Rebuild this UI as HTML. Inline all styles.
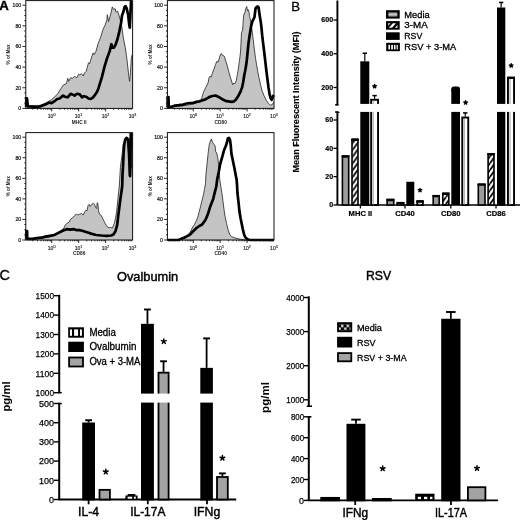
<!DOCTYPE html>
<html><head><meta charset="utf-8"><title>Figure</title>
<style>
html,body{margin:0;padding:0;background:#fff;width:520px;height:520px;overflow:hidden;}
svg{display:block;font-family:"Liberation Sans",sans-serif;will-change:transform;filter:blur(0.35px);}
</style></head>
<body>
<svg width="520" height="520" viewBox="0 0 520 520">
<defs>
<pattern id="hatchB" patternUnits="userSpaceOnUse" width="4.9" height="6.8">
<rect width="4.9" height="6.8" fill="#fff"/>
<path d="M-4.9,6.8 L0,0 M0,6.8 L4.9,0 M4.9,13.6 L9.8,6.8 M4.9,6.8 L9.8,0 M-4.9,13.6 L4.9,0" stroke="#000" stroke-width="1.8"/>
</pattern>
<pattern id="hatchL" patternUnits="userSpaceOnUse" width="5.5" height="5.5" x="387" y="21">
<rect width="5.5" height="5.5" fill="#fff"/>
<path d="M-1.4,1.4 L1.4,-1.4 M0,5.5 L5.5,0 M4.1,6.9 L6.9,4.1" stroke="#000" stroke-width="1.9"/>
</pattern>
<pattern id="vstripeB" patternUnits="userSpaceOnUse" width="3.0" height="10" x="0.4">
<rect width="3.0" height="10" fill="#fff"/>
<rect x="1.7" width="1.0" height="10" fill="#555"/>
</pattern>
<pattern id="vstripeL" patternUnits="userSpaceOnUse" width="3.0" height="10" x="388.6">
<rect width="3.0" height="10" fill="#000"/>
<rect x="0.6" width="1.6" height="10" fill="#fff"/>
</pattern>
<pattern id="hlineB" patternUnits="userSpaceOnUse" width="10" height="2.2">
<rect width="10" height="2.2" fill="#8a8a8a"/>
<rect y="0.6" width="10" height="0.9" fill="#c8c8c8"/>
</pattern>
<pattern id="vstripeC" patternUnits="userSpaceOnUse" width="4.3" height="10" x="126.3">
<rect width="4.3" height="10" fill="#fff"/>
<rect x="3.1" width="1.4" height="10" fill="#000"/>
</pattern>
<pattern id="vstripeCL" patternUnits="userSpaceOnUse" width="4.4" height="10" x="69.6">
<rect width="4.4" height="10" fill="#fff"/>
<rect x="3.2" width="1.5" height="10" fill="#000"/>
</pattern>
<pattern id="checkC" patternUnits="userSpaceOnUse" width="5" height="5" x="416" y="495.5">
<rect width="5" height="5" fill="#fff"/>
<rect x="2.5" y="0" width="2.5" height="2.5" fill="#000"/>
<rect x="0" y="2.5" width="2.5" height="2.5" fill="#000"/>
</pattern>
<pattern id="checkCL" patternUnits="userSpaceOnUse" width="5.6" height="6" x="338.2" y="324.4">
<rect width="5.6" height="6" fill="#000"/>
<rect x="2.9" y="0.3" width="2.3" height="2.4" fill="#fff"/>
<rect x="0.3" y="3.2" width="2.3" height="2.4" fill="#fff"/>
</pattern>
</defs>
<rect width="520" height="520" fill="#fff"/>
<text x="-0.70" y="10.20" font-size="13.2" font-weight="bold" text-anchor="start" stroke="#000" stroke-width="0.4">A</text>
<polygon points="26.10,108.40 26.10,106.80 26.30,97.70 27.00,97.70 27.40,105.80 28.20,105.80 36.70,105.80 40.00,105.40 45.80,103.10 51.50,99.60 57.30,94.40 61.30,88.10 63.10,85.20 66.50,83.50 67.70,78.30 68.80,81.20 70.60,77.70 72.30,78.30 74.60,76.50 76.90,77.70 78.70,74.20 79.80,74.80 81.50,73.70 83.30,76.00 84.40,73.10 86.20,71.30 87.30,67.30 88.50,62.70 89.60,63.80 91.30,58.10 93.10,52.90 94.20,54.60 96.00,51.20 98.20,43.30 100.40,38.10 103.00,29.40 105.10,25.10 106.90,19.90 107.30,14.70 108.60,21.60 110.80,13.80 112.30,6.90 113.40,9.50 115.10,8.70 116.00,12.10 117.70,11.20 118.50,13.80 120.30,19.90 121.80,27.00 123.50,39.00 125.30,47.70 127.00,59.80 128.70,75.40 129.60,81.40 130.50,71.90 131.30,58.10 132.20,54.60 132.20,108.40" fill="#c4c4c4" stroke="none"/>
<polyline points="26.10,106.80 26.30,97.70 27.00,97.70 27.40,105.80 28.20,105.80 36.70,105.80 40.00,105.40 45.80,103.10 51.50,99.60 57.30,94.40 61.30,88.10 63.10,85.20 66.50,83.50 67.70,78.30 68.80,81.20 70.60,77.70 72.30,78.30 74.60,76.50 76.90,77.70 78.70,74.20 79.80,74.80 81.50,73.70 83.30,76.00 84.40,73.10 86.20,71.30 87.30,67.30 88.50,62.70 89.60,63.80 91.30,58.10 93.10,52.90 94.20,54.60 96.00,51.20 98.20,43.30 100.40,38.10 103.00,29.40 105.10,25.10 106.90,19.90 107.30,14.70 108.60,21.60 110.80,13.80 112.30,6.90 113.40,9.50 115.10,8.70 116.00,12.10 117.70,11.20 118.50,13.80 120.30,19.90 121.80,27.00 123.50,39.00 125.30,47.70 127.00,59.80 128.70,75.40 129.60,81.40 130.50,71.90 131.30,58.10 132.20,54.60" fill="none" stroke="#222" stroke-width="0.8" stroke-linejoin="round"/>
<polyline points="26.10,106.80 26.30,98.40 27.00,98.40 27.80,106.40 36.70,106.80 40.00,106.50 45.80,104.20 49.20,102.50 51.50,103.10 55.00,100.80 57.30,99.00 59.60,98.50 63.10,95.60 64.80,96.70 67.70,97.30 70.60,93.80 72.30,94.40 74.60,95.60 76.90,93.80 79.80,94.40 82.10,97.30 83.80,96.20 86.20,96.70 88.50,98.50 90.80,99.00 93.10,97.30 95.40,94.40 97.20,91.50 98.50,88.20 101.90,77.10 104.50,66.70 107.10,58.10 109.70,51.10 111.40,44.20 112.30,47.70 114.00,47.70 115.80,44.20 117.50,39.00 119.20,32.10 121.00,23.50 122.00,15.50 123.30,12.10 124.60,6.90 125.50,6.10 126.80,8.70 128.10,14.70 129.40,26.00 129.80,27.70 130.70,8.70 131.10,1.30 131.40,0.60" fill="none" stroke="#000" stroke-width="2.7" stroke-linejoin="round"/>
<rect x="25.80" y="0.60" width="106.80" height="107.80" fill="none" stroke="#111" stroke-width="1.0"/>
<line x1="22.40" y1="108.40" x2="25.80" y2="108.40" stroke="#111" stroke-width="0.9"/>
<text x="21.20" y="110.30" font-size="5.2" font-weight="normal" text-anchor="end" fill="#111" stroke="#111" stroke-width="0.2">0</text>
<line x1="24.30" y1="103.24" x2="25.80" y2="103.24" stroke="#111" stroke-width="0.9"/>
<line x1="24.30" y1="98.08" x2="25.80" y2="98.08" stroke="#111" stroke-width="0.9"/>
<line x1="24.30" y1="92.92" x2="25.80" y2="92.92" stroke="#111" stroke-width="0.9"/>
<line x1="22.40" y1="87.76" x2="25.80" y2="87.76" stroke="#111" stroke-width="0.9"/>
<text x="21.20" y="89.66" font-size="5.2" font-weight="normal" text-anchor="end" fill="#111" stroke="#111" stroke-width="0.2">20</text>
<line x1="24.30" y1="82.60" x2="25.80" y2="82.60" stroke="#111" stroke-width="0.9"/>
<line x1="24.30" y1="77.44" x2="25.80" y2="77.44" stroke="#111" stroke-width="0.9"/>
<line x1="24.30" y1="72.28" x2="25.80" y2="72.28" stroke="#111" stroke-width="0.9"/>
<line x1="22.40" y1="67.12" x2="25.80" y2="67.12" stroke="#111" stroke-width="0.9"/>
<text x="21.20" y="69.02" font-size="5.2" font-weight="normal" text-anchor="end" fill="#111" stroke="#111" stroke-width="0.2">40</text>
<line x1="24.30" y1="61.96" x2="25.80" y2="61.96" stroke="#111" stroke-width="0.9"/>
<line x1="24.30" y1="56.80" x2="25.80" y2="56.80" stroke="#111" stroke-width="0.9"/>
<line x1="24.30" y1="51.64" x2="25.80" y2="51.64" stroke="#111" stroke-width="0.9"/>
<line x1="22.40" y1="46.48" x2="25.80" y2="46.48" stroke="#111" stroke-width="0.9"/>
<text x="21.20" y="48.38" font-size="5.2" font-weight="normal" text-anchor="end" fill="#111" stroke="#111" stroke-width="0.2">60</text>
<line x1="24.30" y1="41.32" x2="25.80" y2="41.32" stroke="#111" stroke-width="0.9"/>
<line x1="24.30" y1="36.16" x2="25.80" y2="36.16" stroke="#111" stroke-width="0.9"/>
<line x1="24.30" y1="31.00" x2="25.80" y2="31.00" stroke="#111" stroke-width="0.9"/>
<line x1="22.40" y1="25.84" x2="25.80" y2="25.84" stroke="#111" stroke-width="0.9"/>
<text x="21.20" y="27.74" font-size="5.2" font-weight="normal" text-anchor="end" fill="#111" stroke="#111" stroke-width="0.2">80</text>
<line x1="24.30" y1="20.68" x2="25.80" y2="20.68" stroke="#111" stroke-width="0.9"/>
<line x1="24.30" y1="15.52" x2="25.80" y2="15.52" stroke="#111" stroke-width="0.9"/>
<line x1="24.30" y1="10.36" x2="25.80" y2="10.36" stroke="#111" stroke-width="0.9"/>
<line x1="22.40" y1="5.20" x2="25.80" y2="5.20" stroke="#111" stroke-width="0.9"/>
<text x="21.20" y="7.10" font-size="5.2" font-weight="normal" text-anchor="end" fill="#111" stroke="#111" stroke-width="0.2">100</text>
<text transform="translate(10.30,54.50) rotate(-90)" font-size="4.9" font-weight="bold" text-anchor="middle" fill="#222" textLength="20" lengthAdjust="spacingAndGlyphs">% of Max</text>
<line x1="32.85" y1="108.40" x2="32.85" y2="109.70" stroke="#111" stroke-width="0.9"/>
<line x1="37.60" y1="108.40" x2="37.60" y2="109.70" stroke="#111" stroke-width="0.9"/>
<line x1="40.97" y1="108.40" x2="40.97" y2="109.70" stroke="#111" stroke-width="0.9"/>
<line x1="43.58" y1="108.40" x2="43.58" y2="109.70" stroke="#111" stroke-width="0.9"/>
<line x1="45.72" y1="108.40" x2="45.72" y2="109.70" stroke="#111" stroke-width="0.9"/>
<line x1="47.52" y1="108.40" x2="47.52" y2="109.70" stroke="#111" stroke-width="0.9"/>
<line x1="49.09" y1="108.40" x2="49.09" y2="109.70" stroke="#111" stroke-width="0.9"/>
<line x1="50.47" y1="108.40" x2="50.47" y2="109.70" stroke="#111" stroke-width="0.9"/>
<line x1="51.70" y1="108.40" x2="51.70" y2="111.40" stroke="#111" stroke-width="0.9"/>
<line x1="59.82" y1="108.40" x2="59.82" y2="109.70" stroke="#111" stroke-width="0.9"/>
<line x1="64.57" y1="108.40" x2="64.57" y2="109.70" stroke="#111" stroke-width="0.9"/>
<line x1="67.94" y1="108.40" x2="67.94" y2="109.70" stroke="#111" stroke-width="0.9"/>
<line x1="70.55" y1="108.40" x2="70.55" y2="109.70" stroke="#111" stroke-width="0.9"/>
<line x1="72.68" y1="108.40" x2="72.68" y2="109.70" stroke="#111" stroke-width="0.9"/>
<line x1="74.49" y1="108.40" x2="74.49" y2="109.70" stroke="#111" stroke-width="0.9"/>
<line x1="76.05" y1="108.40" x2="76.05" y2="109.70" stroke="#111" stroke-width="0.9"/>
<line x1="77.43" y1="108.40" x2="77.43" y2="109.70" stroke="#111" stroke-width="0.9"/>
<line x1="78.67" y1="108.40" x2="78.67" y2="111.40" stroke="#111" stroke-width="0.9"/>
<line x1="86.78" y1="108.40" x2="86.78" y2="109.70" stroke="#111" stroke-width="0.9"/>
<line x1="91.53" y1="108.40" x2="91.53" y2="109.70" stroke="#111" stroke-width="0.9"/>
<line x1="94.90" y1="108.40" x2="94.90" y2="109.70" stroke="#111" stroke-width="0.9"/>
<line x1="97.52" y1="108.40" x2="97.52" y2="109.70" stroke="#111" stroke-width="0.9"/>
<line x1="99.65" y1="108.40" x2="99.65" y2="109.70" stroke="#111" stroke-width="0.9"/>
<line x1="101.46" y1="108.40" x2="101.46" y2="109.70" stroke="#111" stroke-width="0.9"/>
<line x1="103.02" y1="108.40" x2="103.02" y2="109.70" stroke="#111" stroke-width="0.9"/>
<line x1="104.40" y1="108.40" x2="104.40" y2="109.70" stroke="#111" stroke-width="0.9"/>
<line x1="105.63" y1="108.40" x2="105.63" y2="111.40" stroke="#111" stroke-width="0.9"/>
<line x1="113.75" y1="108.40" x2="113.75" y2="109.70" stroke="#111" stroke-width="0.9"/>
<line x1="118.50" y1="108.40" x2="118.50" y2="109.70" stroke="#111" stroke-width="0.9"/>
<line x1="121.87" y1="108.40" x2="121.87" y2="109.70" stroke="#111" stroke-width="0.9"/>
<line x1="124.48" y1="108.40" x2="124.48" y2="109.70" stroke="#111" stroke-width="0.9"/>
<line x1="126.62" y1="108.40" x2="126.62" y2="109.70" stroke="#111" stroke-width="0.9"/>
<line x1="128.42" y1="108.40" x2="128.42" y2="109.70" stroke="#111" stroke-width="0.9"/>
<line x1="129.99" y1="108.40" x2="129.99" y2="109.70" stroke="#111" stroke-width="0.9"/>
<line x1="131.37" y1="108.40" x2="131.37" y2="109.70" stroke="#111" stroke-width="0.9"/>
<text x="51.60" y="118.00" font-size="5" text-anchor="middle" fill="#222" stroke="#222" stroke-width="0.15">10<tspan dy="-2" font-size="3.6">0</tspan></text>
<text x="78.57" y="118.00" font-size="5" text-anchor="middle" fill="#222" stroke="#222" stroke-width="0.15">10<tspan dy="-2" font-size="3.6">1</tspan></text>
<text x="105.53" y="118.00" font-size="5" text-anchor="middle" fill="#222" stroke="#222" stroke-width="0.15">10<tspan dy="-2" font-size="3.6">2</tspan></text>
<text x="132.50" y="118.00" font-size="5" text-anchor="middle" fill="#222" stroke="#222" stroke-width="0.15">10<tspan dy="-2" font-size="3.6">3</tspan></text>
<text x="79.20" y="123.60" font-size="4.8" font-weight="bold" text-anchor="middle" fill="#222">MHC II</text>
<polygon points="167.60,108.40 167.60,107.30 167.70,97.10 168.50,97.10 168.70,107.30 183.20,105.70 192.90,104.10 199.40,101.90 201.50,99.20 202.60,94.90 203.70,91.70 205.80,87.40 208.00,83.10 209.10,77.70 210.20,76.10 211.20,77.20 212.30,73.40 213.90,69.10 215.50,64.80 216.60,61.50 218.20,62.10 219.30,58.30 220.20,55.00 221.30,53.60 222.20,55.10 224.30,56.20 225.90,61.50 227.00,64.80 228.60,71.20 230.20,76.60 231.80,82.00 232.70,84.70 233.80,83.10 234.90,83.60 236.20,80.90 237.20,75.50 238.30,69.10 239.20,62.60 239.90,57.20 240.50,52.00 241.00,43.10 241.50,32.30 242.60,30.20 243.20,21.50 243.70,15.10 244.80,12.90 245.80,8.60 246.70,6.50 247.50,10.80 248.20,9.70 248.90,11.80 249.60,16.20 250.70,21.50 251.20,25.80 252.30,32.30 253.40,40.90 254.20,48.00 255.50,58.30 256.60,64.80 257.70,71.20 259.00,77.70 260.40,84.20 262.00,90.60 264.20,96.00 266.30,100.30 268.50,103.50 270.60,105.20 272.20,104.60 273.30,103.00 274.00,102.00 274.00,108.40" fill="#c4c4c4" stroke="none"/>
<polyline points="167.60,107.30 167.70,97.10 168.50,97.10 168.70,107.30 183.20,105.70 192.90,104.10 199.40,101.90 201.50,99.20 202.60,94.90 203.70,91.70 205.80,87.40 208.00,83.10 209.10,77.70 210.20,76.10 211.20,77.20 212.30,73.40 213.90,69.10 215.50,64.80 216.60,61.50 218.20,62.10 219.30,58.30 220.20,55.00 221.30,53.60 222.20,55.10 224.30,56.20 225.90,61.50 227.00,64.80 228.60,71.20 230.20,76.60 231.80,82.00 232.70,84.70 233.80,83.10 234.90,83.60 236.20,80.90 237.20,75.50 238.30,69.10 239.20,62.60 239.90,57.20 240.50,52.00 241.00,43.10 241.50,32.30 242.60,30.20 243.20,21.50 243.70,15.10 244.80,12.90 245.80,8.60 246.70,6.50 247.50,10.80 248.20,9.70 248.90,11.80 249.60,16.20 250.70,21.50 251.20,25.80 252.30,32.30 253.40,40.90 254.20,48.00 255.50,58.30 256.60,64.80 257.70,71.20 259.00,77.70 260.40,84.20 262.00,90.60 264.20,96.00 266.30,100.30 268.50,103.50 270.60,105.20 272.20,104.60 273.30,103.00 274.00,102.00" fill="none" stroke="#222" stroke-width="0.8" stroke-linejoin="round"/>
<polyline points="167.60,107.30 167.70,97.10 168.50,97.10 168.70,106.80 171.40,106.80 174.60,105.70 178.90,105.20 183.20,104.60 186.50,103.50 189.70,103.00 192.90,103.00 196.20,101.90 199.40,101.40 202.60,100.30 205.80,99.20 209.10,97.10 212.30,96.00 215.50,95.50 217.70,96.50 219.80,97.60 222.20,99.20 225.40,100.80 228.60,101.40 231.80,101.90 234.00,101.40 236.20,99.20 238.30,96.00 240.50,91.70 242.10,87.40 243.20,82.00 244.20,75.50 245.30,70.20 246.20,64.80 246.90,59.40 247.60,52.00 248.50,43.10 249.60,35.50 250.70,29.10 251.20,25.80 252.30,21.50 253.40,19.40 254.50,17.20 255.00,12.90 255.50,8.60 256.60,7.00 257.70,6.50 258.60,7.50 259.00,10.80 259.80,16.20 260.70,21.50 261.50,28.00 262.20,35.50 263.10,43.10 263.90,49.50 265.20,60.50 266.30,70.20 267.40,78.80 268.50,87.40 269.50,93.80 270.60,98.20 271.70,99.80 272.80,97.10 273.50,94.90" fill="none" stroke="#000" stroke-width="2.7" stroke-linejoin="round"/>
<rect x="167.40" y="0.60" width="106.60" height="107.80" fill="none" stroke="#111" stroke-width="1.0"/>
<line x1="164.00" y1="108.40" x2="167.40" y2="108.40" stroke="#111" stroke-width="0.9"/>
<text x="162.80" y="110.30" font-size="5.2" font-weight="normal" text-anchor="end" fill="#111" stroke="#111" stroke-width="0.2">0</text>
<line x1="165.90" y1="103.24" x2="167.40" y2="103.24" stroke="#111" stroke-width="0.9"/>
<line x1="165.90" y1="98.08" x2="167.40" y2="98.08" stroke="#111" stroke-width="0.9"/>
<line x1="165.90" y1="92.92" x2="167.40" y2="92.92" stroke="#111" stroke-width="0.9"/>
<line x1="164.00" y1="87.76" x2="167.40" y2="87.76" stroke="#111" stroke-width="0.9"/>
<text x="162.80" y="89.66" font-size="5.2" font-weight="normal" text-anchor="end" fill="#111" stroke="#111" stroke-width="0.2">20</text>
<line x1="165.90" y1="82.60" x2="167.40" y2="82.60" stroke="#111" stroke-width="0.9"/>
<line x1="165.90" y1="77.44" x2="167.40" y2="77.44" stroke="#111" stroke-width="0.9"/>
<line x1="165.90" y1="72.28" x2="167.40" y2="72.28" stroke="#111" stroke-width="0.9"/>
<line x1="164.00" y1="67.12" x2="167.40" y2="67.12" stroke="#111" stroke-width="0.9"/>
<text x="162.80" y="69.02" font-size="5.2" font-weight="normal" text-anchor="end" fill="#111" stroke="#111" stroke-width="0.2">40</text>
<line x1="165.90" y1="61.96" x2="167.40" y2="61.96" stroke="#111" stroke-width="0.9"/>
<line x1="165.90" y1="56.80" x2="167.40" y2="56.80" stroke="#111" stroke-width="0.9"/>
<line x1="165.90" y1="51.64" x2="167.40" y2="51.64" stroke="#111" stroke-width="0.9"/>
<line x1="164.00" y1="46.48" x2="167.40" y2="46.48" stroke="#111" stroke-width="0.9"/>
<text x="162.80" y="48.38" font-size="5.2" font-weight="normal" text-anchor="end" fill="#111" stroke="#111" stroke-width="0.2">60</text>
<line x1="165.90" y1="41.32" x2="167.40" y2="41.32" stroke="#111" stroke-width="0.9"/>
<line x1="165.90" y1="36.16" x2="167.40" y2="36.16" stroke="#111" stroke-width="0.9"/>
<line x1="165.90" y1="31.00" x2="167.40" y2="31.00" stroke="#111" stroke-width="0.9"/>
<line x1="164.00" y1="25.84" x2="167.40" y2="25.84" stroke="#111" stroke-width="0.9"/>
<text x="162.80" y="27.74" font-size="5.2" font-weight="normal" text-anchor="end" fill="#111" stroke="#111" stroke-width="0.2">80</text>
<line x1="165.90" y1="20.68" x2="167.40" y2="20.68" stroke="#111" stroke-width="0.9"/>
<line x1="165.90" y1="15.52" x2="167.40" y2="15.52" stroke="#111" stroke-width="0.9"/>
<line x1="165.90" y1="10.36" x2="167.40" y2="10.36" stroke="#111" stroke-width="0.9"/>
<line x1="164.00" y1="5.20" x2="167.40" y2="5.20" stroke="#111" stroke-width="0.9"/>
<text x="162.80" y="7.10" font-size="5.2" font-weight="normal" text-anchor="end" fill="#111" stroke="#111" stroke-width="0.2">100</text>
<text transform="translate(151.90,54.50) rotate(-90)" font-size="4.9" font-weight="bold" text-anchor="middle" fill="#222" textLength="20" lengthAdjust="spacingAndGlyphs">% of Max</text>
<line x1="174.50" y1="108.40" x2="174.50" y2="109.70" stroke="#111" stroke-width="0.9"/>
<line x1="179.23" y1="108.40" x2="179.23" y2="109.70" stroke="#111" stroke-width="0.9"/>
<line x1="182.60" y1="108.40" x2="182.60" y2="109.70" stroke="#111" stroke-width="0.9"/>
<line x1="185.20" y1="108.40" x2="185.20" y2="109.70" stroke="#111" stroke-width="0.9"/>
<line x1="187.33" y1="108.40" x2="187.33" y2="109.70" stroke="#111" stroke-width="0.9"/>
<line x1="189.13" y1="108.40" x2="189.13" y2="109.70" stroke="#111" stroke-width="0.9"/>
<line x1="190.69" y1="108.40" x2="190.69" y2="109.70" stroke="#111" stroke-width="0.9"/>
<line x1="192.07" y1="108.40" x2="192.07" y2="109.70" stroke="#111" stroke-width="0.9"/>
<line x1="193.30" y1="108.40" x2="193.30" y2="111.40" stroke="#111" stroke-width="0.9"/>
<line x1="201.40" y1="108.40" x2="201.40" y2="109.70" stroke="#111" stroke-width="0.9"/>
<line x1="206.13" y1="108.40" x2="206.13" y2="109.70" stroke="#111" stroke-width="0.9"/>
<line x1="209.50" y1="108.40" x2="209.50" y2="109.70" stroke="#111" stroke-width="0.9"/>
<line x1="212.10" y1="108.40" x2="212.10" y2="109.70" stroke="#111" stroke-width="0.9"/>
<line x1="214.23" y1="108.40" x2="214.23" y2="109.70" stroke="#111" stroke-width="0.9"/>
<line x1="216.03" y1="108.40" x2="216.03" y2="109.70" stroke="#111" stroke-width="0.9"/>
<line x1="217.59" y1="108.40" x2="217.59" y2="109.70" stroke="#111" stroke-width="0.9"/>
<line x1="218.97" y1="108.40" x2="218.97" y2="109.70" stroke="#111" stroke-width="0.9"/>
<line x1="220.20" y1="108.40" x2="220.20" y2="111.40" stroke="#111" stroke-width="0.9"/>
<line x1="228.30" y1="108.40" x2="228.30" y2="109.70" stroke="#111" stroke-width="0.9"/>
<line x1="233.03" y1="108.40" x2="233.03" y2="109.70" stroke="#111" stroke-width="0.9"/>
<line x1="236.40" y1="108.40" x2="236.40" y2="109.70" stroke="#111" stroke-width="0.9"/>
<line x1="239.00" y1="108.40" x2="239.00" y2="109.70" stroke="#111" stroke-width="0.9"/>
<line x1="241.13" y1="108.40" x2="241.13" y2="109.70" stroke="#111" stroke-width="0.9"/>
<line x1="242.93" y1="108.40" x2="242.93" y2="109.70" stroke="#111" stroke-width="0.9"/>
<line x1="244.49" y1="108.40" x2="244.49" y2="109.70" stroke="#111" stroke-width="0.9"/>
<line x1="245.87" y1="108.40" x2="245.87" y2="109.70" stroke="#111" stroke-width="0.9"/>
<line x1="247.10" y1="108.40" x2="247.10" y2="111.40" stroke="#111" stroke-width="0.9"/>
<line x1="255.20" y1="108.40" x2="255.20" y2="109.70" stroke="#111" stroke-width="0.9"/>
<line x1="259.93" y1="108.40" x2="259.93" y2="109.70" stroke="#111" stroke-width="0.9"/>
<line x1="263.30" y1="108.40" x2="263.30" y2="109.70" stroke="#111" stroke-width="0.9"/>
<line x1="265.90" y1="108.40" x2="265.90" y2="109.70" stroke="#111" stroke-width="0.9"/>
<line x1="268.03" y1="108.40" x2="268.03" y2="109.70" stroke="#111" stroke-width="0.9"/>
<line x1="269.83" y1="108.40" x2="269.83" y2="109.70" stroke="#111" stroke-width="0.9"/>
<line x1="271.39" y1="108.40" x2="271.39" y2="109.70" stroke="#111" stroke-width="0.9"/>
<line x1="272.77" y1="108.40" x2="272.77" y2="109.70" stroke="#111" stroke-width="0.9"/>
<text x="193.20" y="118.00" font-size="5" text-anchor="middle" fill="#222" stroke="#222" stroke-width="0.15">10<tspan dy="-2" font-size="3.6">0</tspan></text>
<text x="220.10" y="118.00" font-size="5" text-anchor="middle" fill="#222" stroke="#222" stroke-width="0.15">10<tspan dy="-2" font-size="3.6">1</tspan></text>
<text x="247.00" y="118.00" font-size="5" text-anchor="middle" fill="#222" stroke="#222" stroke-width="0.15">10<tspan dy="-2" font-size="3.6">2</tspan></text>
<text x="273.90" y="118.00" font-size="5" text-anchor="middle" fill="#222" stroke="#222" stroke-width="0.15">10<tspan dy="-2" font-size="3.6">3</tspan></text>
<text x="220.70" y="123.60" font-size="4.8" font-weight="bold" text-anchor="middle" fill="#222">CD80</text>
<polygon points="26.20,240.00 26.20,239.30 26.30,231.50 27.10,231.50 27.20,239.30 45.50,237.70 54.20,235.50 58.50,233.40 61.70,230.20 63.80,228.00 65.50,224.80 67.10,223.20 69.20,222.10 70.30,219.40 72.50,217.80 74.60,215.60 76.20,214.20 77.80,214.90 79.50,214.20 81.60,213.50 83.20,215.10 84.80,211.80 85.90,210.20 87.00,210.80 88.10,205.40 89.20,204.30 90.20,206.50 91.80,204.30 93.50,203.20 94.50,204.30 95.60,207.50 96.70,208.60 97.20,202.70 97.80,203.20 98.50,210.80 99.40,214.00 101.00,215.10 102.60,218.30 104.20,221.50 105.80,224.80 107.50,226.90 109.10,227.50 110.70,227.50 112.30,228.00 113.40,225.80 114.50,222.60 115.50,218.30 116.60,211.80 117.70,201.10 118.80,190.30 119.30,186.00 120.40,167.50 121.50,158.90 122.50,151.40 123.10,144.90 124.20,141.70 125.20,138.50 126.30,137.40 127.40,137.90 127.90,140.60 128.50,153.50 129.00,164.30 129.50,172.90 130.10,176.20 130.60,169.70 131.20,164.30 131.70,167.50 132.20,150.00 132.60,134.00 132.60,240.00" fill="#c4c4c4" stroke="none"/>
<polyline points="26.20,239.30 26.30,231.50 27.10,231.50 27.20,239.30 45.50,237.70 54.20,235.50 58.50,233.40 61.70,230.20 63.80,228.00 65.50,224.80 67.10,223.20 69.20,222.10 70.30,219.40 72.50,217.80 74.60,215.60 76.20,214.20 77.80,214.90 79.50,214.20 81.60,213.50 83.20,215.10 84.80,211.80 85.90,210.20 87.00,210.80 88.10,205.40 89.20,204.30 90.20,206.50 91.80,204.30 93.50,203.20 94.50,204.30 95.60,207.50 96.70,208.60 97.20,202.70 97.80,203.20 98.50,210.80 99.40,214.00 101.00,215.10 102.60,218.30 104.20,221.50 105.80,224.80 107.50,226.90 109.10,227.50 110.70,227.50 112.30,228.00 113.40,225.80 114.50,222.60 115.50,218.30 116.60,211.80 117.70,201.10 118.80,190.30 119.30,186.00 120.40,167.50 121.50,158.90 122.50,151.40 123.10,144.90 124.20,141.70 125.20,138.50 126.30,137.40 127.40,137.90 127.90,140.60 128.50,153.50 129.00,164.30 129.50,172.90 130.10,176.20 130.60,169.70 131.20,164.30 131.70,167.50 132.20,150.00 132.60,134.00" fill="none" stroke="#222" stroke-width="0.8" stroke-linejoin="round"/>
<polyline points="26.20,239.30 26.30,231.20 27.10,231.20 27.20,238.80 32.60,238.80 36.90,238.20 41.20,237.70 45.50,236.60 49.80,235.80 54.20,235.00 57.40,233.40 60.60,231.80 63.80,230.20 67.10,229.10 70.30,229.60 73.50,229.10 76.80,230.20 80.00,230.20 82.20,230.70 85.40,231.80 88.60,232.80 91.80,233.90 96.20,235.00 101.50,235.50 106.90,235.80 111.20,235.50 113.40,234.50 115.50,231.20 117.20,224.80 118.20,216.20 119.30,207.50 120.40,198.90 121.50,191.40 122.20,186.00 122.50,175.10 123.10,164.30 123.60,153.50 124.20,144.90 125.20,139.50 126.50,137.90 127.90,139.00 128.50,144.90 129.00,153.50 129.50,164.30 129.80,175.10 130.10,176.20 130.40,164.30 130.60,148.20 130.80,133.00" fill="none" stroke="#000" stroke-width="2.7" stroke-linejoin="round"/>
<rect x="25.80" y="132.60" width="106.80" height="107.40" fill="none" stroke="#111" stroke-width="1.0"/>
<line x1="22.40" y1="240.00" x2="25.80" y2="240.00" stroke="#111" stroke-width="0.9"/>
<text x="21.20" y="241.90" font-size="5.2" font-weight="normal" text-anchor="end" fill="#111" stroke="#111" stroke-width="0.2">0</text>
<line x1="24.30" y1="234.86" x2="25.80" y2="234.86" stroke="#111" stroke-width="0.9"/>
<line x1="24.30" y1="229.72" x2="25.80" y2="229.72" stroke="#111" stroke-width="0.9"/>
<line x1="24.30" y1="224.58" x2="25.80" y2="224.58" stroke="#111" stroke-width="0.9"/>
<line x1="22.40" y1="219.44" x2="25.80" y2="219.44" stroke="#111" stroke-width="0.9"/>
<text x="21.20" y="221.34" font-size="5.2" font-weight="normal" text-anchor="end" fill="#111" stroke="#111" stroke-width="0.2">20</text>
<line x1="24.30" y1="214.30" x2="25.80" y2="214.30" stroke="#111" stroke-width="0.9"/>
<line x1="24.30" y1="209.16" x2="25.80" y2="209.16" stroke="#111" stroke-width="0.9"/>
<line x1="24.30" y1="204.02" x2="25.80" y2="204.02" stroke="#111" stroke-width="0.9"/>
<line x1="22.40" y1="198.88" x2="25.80" y2="198.88" stroke="#111" stroke-width="0.9"/>
<text x="21.20" y="200.78" font-size="5.2" font-weight="normal" text-anchor="end" fill="#111" stroke="#111" stroke-width="0.2">40</text>
<line x1="24.30" y1="193.74" x2="25.80" y2="193.74" stroke="#111" stroke-width="0.9"/>
<line x1="24.30" y1="188.60" x2="25.80" y2="188.60" stroke="#111" stroke-width="0.9"/>
<line x1="24.30" y1="183.46" x2="25.80" y2="183.46" stroke="#111" stroke-width="0.9"/>
<line x1="22.40" y1="178.32" x2="25.80" y2="178.32" stroke="#111" stroke-width="0.9"/>
<text x="21.20" y="180.22" font-size="5.2" font-weight="normal" text-anchor="end" fill="#111" stroke="#111" stroke-width="0.2">60</text>
<line x1="24.30" y1="173.18" x2="25.80" y2="173.18" stroke="#111" stroke-width="0.9"/>
<line x1="24.30" y1="168.04" x2="25.80" y2="168.04" stroke="#111" stroke-width="0.9"/>
<line x1="24.30" y1="162.90" x2="25.80" y2="162.90" stroke="#111" stroke-width="0.9"/>
<line x1="22.40" y1="157.76" x2="25.80" y2="157.76" stroke="#111" stroke-width="0.9"/>
<text x="21.20" y="159.66" font-size="5.2" font-weight="normal" text-anchor="end" fill="#111" stroke="#111" stroke-width="0.2">80</text>
<line x1="24.30" y1="152.62" x2="25.80" y2="152.62" stroke="#111" stroke-width="0.9"/>
<line x1="24.30" y1="147.48" x2="25.80" y2="147.48" stroke="#111" stroke-width="0.9"/>
<line x1="24.30" y1="142.34" x2="25.80" y2="142.34" stroke="#111" stroke-width="0.9"/>
<line x1="22.40" y1="137.20" x2="25.80" y2="137.20" stroke="#111" stroke-width="0.9"/>
<text x="21.20" y="139.10" font-size="5.2" font-weight="normal" text-anchor="end" fill="#111" stroke="#111" stroke-width="0.2">100</text>
<text transform="translate(10.30,186.30) rotate(-90)" font-size="4.9" font-weight="bold" text-anchor="middle" fill="#222" textLength="20" lengthAdjust="spacingAndGlyphs">% of Max</text>
<line x1="32.85" y1="240.00" x2="32.85" y2="241.30" stroke="#111" stroke-width="0.9"/>
<line x1="37.60" y1="240.00" x2="37.60" y2="241.30" stroke="#111" stroke-width="0.9"/>
<line x1="40.97" y1="240.00" x2="40.97" y2="241.30" stroke="#111" stroke-width="0.9"/>
<line x1="43.58" y1="240.00" x2="43.58" y2="241.30" stroke="#111" stroke-width="0.9"/>
<line x1="45.72" y1="240.00" x2="45.72" y2="241.30" stroke="#111" stroke-width="0.9"/>
<line x1="47.52" y1="240.00" x2="47.52" y2="241.30" stroke="#111" stroke-width="0.9"/>
<line x1="49.09" y1="240.00" x2="49.09" y2="241.30" stroke="#111" stroke-width="0.9"/>
<line x1="50.47" y1="240.00" x2="50.47" y2="241.30" stroke="#111" stroke-width="0.9"/>
<line x1="51.70" y1="240.00" x2="51.70" y2="243.00" stroke="#111" stroke-width="0.9"/>
<line x1="59.82" y1="240.00" x2="59.82" y2="241.30" stroke="#111" stroke-width="0.9"/>
<line x1="64.57" y1="240.00" x2="64.57" y2="241.30" stroke="#111" stroke-width="0.9"/>
<line x1="67.94" y1="240.00" x2="67.94" y2="241.30" stroke="#111" stroke-width="0.9"/>
<line x1="70.55" y1="240.00" x2="70.55" y2="241.30" stroke="#111" stroke-width="0.9"/>
<line x1="72.68" y1="240.00" x2="72.68" y2="241.30" stroke="#111" stroke-width="0.9"/>
<line x1="74.49" y1="240.00" x2="74.49" y2="241.30" stroke="#111" stroke-width="0.9"/>
<line x1="76.05" y1="240.00" x2="76.05" y2="241.30" stroke="#111" stroke-width="0.9"/>
<line x1="77.43" y1="240.00" x2="77.43" y2="241.30" stroke="#111" stroke-width="0.9"/>
<line x1="78.67" y1="240.00" x2="78.67" y2="243.00" stroke="#111" stroke-width="0.9"/>
<line x1="86.78" y1="240.00" x2="86.78" y2="241.30" stroke="#111" stroke-width="0.9"/>
<line x1="91.53" y1="240.00" x2="91.53" y2="241.30" stroke="#111" stroke-width="0.9"/>
<line x1="94.90" y1="240.00" x2="94.90" y2="241.30" stroke="#111" stroke-width="0.9"/>
<line x1="97.52" y1="240.00" x2="97.52" y2="241.30" stroke="#111" stroke-width="0.9"/>
<line x1="99.65" y1="240.00" x2="99.65" y2="241.30" stroke="#111" stroke-width="0.9"/>
<line x1="101.46" y1="240.00" x2="101.46" y2="241.30" stroke="#111" stroke-width="0.9"/>
<line x1="103.02" y1="240.00" x2="103.02" y2="241.30" stroke="#111" stroke-width="0.9"/>
<line x1="104.40" y1="240.00" x2="104.40" y2="241.30" stroke="#111" stroke-width="0.9"/>
<line x1="105.63" y1="240.00" x2="105.63" y2="243.00" stroke="#111" stroke-width="0.9"/>
<line x1="113.75" y1="240.00" x2="113.75" y2="241.30" stroke="#111" stroke-width="0.9"/>
<line x1="118.50" y1="240.00" x2="118.50" y2="241.30" stroke="#111" stroke-width="0.9"/>
<line x1="121.87" y1="240.00" x2="121.87" y2="241.30" stroke="#111" stroke-width="0.9"/>
<line x1="124.48" y1="240.00" x2="124.48" y2="241.30" stroke="#111" stroke-width="0.9"/>
<line x1="126.62" y1="240.00" x2="126.62" y2="241.30" stroke="#111" stroke-width="0.9"/>
<line x1="128.42" y1="240.00" x2="128.42" y2="241.30" stroke="#111" stroke-width="0.9"/>
<line x1="129.99" y1="240.00" x2="129.99" y2="241.30" stroke="#111" stroke-width="0.9"/>
<line x1="131.37" y1="240.00" x2="131.37" y2="241.30" stroke="#111" stroke-width="0.9"/>
<text x="51.60" y="249.60" font-size="5" text-anchor="middle" fill="#222" stroke="#222" stroke-width="0.15">10<tspan dy="-2" font-size="3.6">0</tspan></text>
<text x="78.57" y="249.60" font-size="5" text-anchor="middle" fill="#222" stroke="#222" stroke-width="0.15">10<tspan dy="-2" font-size="3.6">1</tspan></text>
<text x="105.53" y="249.60" font-size="5" text-anchor="middle" fill="#222" stroke="#222" stroke-width="0.15">10<tspan dy="-2" font-size="3.6">2</tspan></text>
<text x="132.50" y="249.60" font-size="5" text-anchor="middle" fill="#222" stroke="#222" stroke-width="0.15">10<tspan dy="-2" font-size="3.6">3</tspan></text>
<text x="79.20" y="255.20" font-size="4.8" font-weight="bold" text-anchor="middle" fill="#222">CD86</text>
<polygon points="167.40,240.00 167.40,240.00 176.60,239.60 182.90,238.80 187.20,236.50 190.10,232.30 192.20,228.00 194.30,224.80 196.50,220.50 198.10,216.20 199.20,211.80 200.80,205.40 202.40,198.90 203.50,194.60 204.50,189.20 205.50,183.50 205.90,175.10 207.00,164.30 208.10,153.50 209.20,144.90 210.20,141.70 211.30,139.00 212.40,142.20 214.00,144.40 215.10,146.00 215.60,151.40 216.70,153.00 217.80,157.80 218.50,164.30 219.20,172.90 219.90,180.50 220.70,186.00 221.80,192.50 222.80,200.00 223.90,208.60 225.00,216.20 226.60,223.70 228.20,230.20 229.80,234.50 231.50,236.60 234.20,237.70 237.40,238.60 240.60,239.20 245.00,240.00 245.00,240.00" fill="#c4c4c4" stroke="none"/>
<polyline points="167.40,240.00 176.60,239.60 182.90,238.80 187.20,236.50 190.10,232.30 192.20,228.00 194.30,224.80 196.50,220.50 198.10,216.20 199.20,211.80 200.80,205.40 202.40,198.90 203.50,194.60 204.50,189.20 205.50,183.50 205.90,175.10 207.00,164.30 208.10,153.50 209.20,144.90 210.20,141.70 211.30,139.00 212.40,142.20 214.00,144.40 215.10,146.00 215.60,151.40 216.70,153.00 217.80,157.80 218.50,164.30 219.20,172.90 219.90,180.50 220.70,186.00 221.80,192.50 222.80,200.00 223.90,208.60 225.00,216.20 226.60,223.70 228.20,230.20 229.80,234.50 231.50,236.60 234.20,237.70 237.40,238.60 240.60,239.20 245.00,240.00" fill="none" stroke="#222" stroke-width="0.8" stroke-linejoin="round"/>
<polyline points="167.40,240.00 178.90,239.80 184.00,237.80 187.20,236.10 190.00,234.50 193.20,231.20 196.50,228.00 199.70,225.80 201.80,224.80 203.50,222.60 205.10,220.50 206.70,217.20 208.30,212.90 209.90,207.50 211.50,203.20 213.20,198.90 214.20,194.60 215.30,190.30 216.30,186.50 217.20,179.40 218.80,171.80 219.90,165.40 221.00,161.10 222.60,155.70 223.70,151.40 224.80,148.20 225.80,146.00 226.90,142.80 227.80,138.50 228.90,137.90 229.90,139.50 230.70,144.90 231.40,153.50 232.30,157.80 233.40,163.20 234.50,168.60 235.50,174.00 236.60,179.40 237.10,186.00 237.40,192.50 238.50,202.20 239.50,211.80 240.60,218.30 241.70,223.70 242.80,229.10 243.80,233.40 244.90,236.60 246.00,238.20 248.00,239.50 250.00,240.00 274.00,240.00" fill="none" stroke="#000" stroke-width="2.7" stroke-linejoin="round"/>
<rect x="167.40" y="132.60" width="106.60" height="107.40" fill="none" stroke="#111" stroke-width="1.0"/>
<line x1="164.00" y1="240.00" x2="167.40" y2="240.00" stroke="#111" stroke-width="0.9"/>
<text x="162.80" y="241.90" font-size="5.2" font-weight="normal" text-anchor="end" fill="#111" stroke="#111" stroke-width="0.2">0</text>
<line x1="165.90" y1="234.86" x2="167.40" y2="234.86" stroke="#111" stroke-width="0.9"/>
<line x1="165.90" y1="229.72" x2="167.40" y2="229.72" stroke="#111" stroke-width="0.9"/>
<line x1="165.90" y1="224.58" x2="167.40" y2="224.58" stroke="#111" stroke-width="0.9"/>
<line x1="164.00" y1="219.44" x2="167.40" y2="219.44" stroke="#111" stroke-width="0.9"/>
<text x="162.80" y="221.34" font-size="5.2" font-weight="normal" text-anchor="end" fill="#111" stroke="#111" stroke-width="0.2">20</text>
<line x1="165.90" y1="214.30" x2="167.40" y2="214.30" stroke="#111" stroke-width="0.9"/>
<line x1="165.90" y1="209.16" x2="167.40" y2="209.16" stroke="#111" stroke-width="0.9"/>
<line x1="165.90" y1="204.02" x2="167.40" y2="204.02" stroke="#111" stroke-width="0.9"/>
<line x1="164.00" y1="198.88" x2="167.40" y2="198.88" stroke="#111" stroke-width="0.9"/>
<text x="162.80" y="200.78" font-size="5.2" font-weight="normal" text-anchor="end" fill="#111" stroke="#111" stroke-width="0.2">40</text>
<line x1="165.90" y1="193.74" x2="167.40" y2="193.74" stroke="#111" stroke-width="0.9"/>
<line x1="165.90" y1="188.60" x2="167.40" y2="188.60" stroke="#111" stroke-width="0.9"/>
<line x1="165.90" y1="183.46" x2="167.40" y2="183.46" stroke="#111" stroke-width="0.9"/>
<line x1="164.00" y1="178.32" x2="167.40" y2="178.32" stroke="#111" stroke-width="0.9"/>
<text x="162.80" y="180.22" font-size="5.2" font-weight="normal" text-anchor="end" fill="#111" stroke="#111" stroke-width="0.2">60</text>
<line x1="165.90" y1="173.18" x2="167.40" y2="173.18" stroke="#111" stroke-width="0.9"/>
<line x1="165.90" y1="168.04" x2="167.40" y2="168.04" stroke="#111" stroke-width="0.9"/>
<line x1="165.90" y1="162.90" x2="167.40" y2="162.90" stroke="#111" stroke-width="0.9"/>
<line x1="164.00" y1="157.76" x2="167.40" y2="157.76" stroke="#111" stroke-width="0.9"/>
<text x="162.80" y="159.66" font-size="5.2" font-weight="normal" text-anchor="end" fill="#111" stroke="#111" stroke-width="0.2">80</text>
<line x1="165.90" y1="152.62" x2="167.40" y2="152.62" stroke="#111" stroke-width="0.9"/>
<line x1="165.90" y1="147.48" x2="167.40" y2="147.48" stroke="#111" stroke-width="0.9"/>
<line x1="165.90" y1="142.34" x2="167.40" y2="142.34" stroke="#111" stroke-width="0.9"/>
<line x1="164.00" y1="137.20" x2="167.40" y2="137.20" stroke="#111" stroke-width="0.9"/>
<text x="162.80" y="139.10" font-size="5.2" font-weight="normal" text-anchor="end" fill="#111" stroke="#111" stroke-width="0.2">100</text>
<text transform="translate(151.90,186.30) rotate(-90)" font-size="4.9" font-weight="bold" text-anchor="middle" fill="#222" textLength="20" lengthAdjust="spacingAndGlyphs">% of Max</text>
<line x1="174.50" y1="240.00" x2="174.50" y2="241.30" stroke="#111" stroke-width="0.9"/>
<line x1="179.23" y1="240.00" x2="179.23" y2="241.30" stroke="#111" stroke-width="0.9"/>
<line x1="182.60" y1="240.00" x2="182.60" y2="241.30" stroke="#111" stroke-width="0.9"/>
<line x1="185.20" y1="240.00" x2="185.20" y2="241.30" stroke="#111" stroke-width="0.9"/>
<line x1="187.33" y1="240.00" x2="187.33" y2="241.30" stroke="#111" stroke-width="0.9"/>
<line x1="189.13" y1="240.00" x2="189.13" y2="241.30" stroke="#111" stroke-width="0.9"/>
<line x1="190.69" y1="240.00" x2="190.69" y2="241.30" stroke="#111" stroke-width="0.9"/>
<line x1="192.07" y1="240.00" x2="192.07" y2="241.30" stroke="#111" stroke-width="0.9"/>
<line x1="193.30" y1="240.00" x2="193.30" y2="243.00" stroke="#111" stroke-width="0.9"/>
<line x1="201.40" y1="240.00" x2="201.40" y2="241.30" stroke="#111" stroke-width="0.9"/>
<line x1="206.13" y1="240.00" x2="206.13" y2="241.30" stroke="#111" stroke-width="0.9"/>
<line x1="209.50" y1="240.00" x2="209.50" y2="241.30" stroke="#111" stroke-width="0.9"/>
<line x1="212.10" y1="240.00" x2="212.10" y2="241.30" stroke="#111" stroke-width="0.9"/>
<line x1="214.23" y1="240.00" x2="214.23" y2="241.30" stroke="#111" stroke-width="0.9"/>
<line x1="216.03" y1="240.00" x2="216.03" y2="241.30" stroke="#111" stroke-width="0.9"/>
<line x1="217.59" y1="240.00" x2="217.59" y2="241.30" stroke="#111" stroke-width="0.9"/>
<line x1="218.97" y1="240.00" x2="218.97" y2="241.30" stroke="#111" stroke-width="0.9"/>
<line x1="220.20" y1="240.00" x2="220.20" y2="243.00" stroke="#111" stroke-width="0.9"/>
<line x1="228.30" y1="240.00" x2="228.30" y2="241.30" stroke="#111" stroke-width="0.9"/>
<line x1="233.03" y1="240.00" x2="233.03" y2="241.30" stroke="#111" stroke-width="0.9"/>
<line x1="236.40" y1="240.00" x2="236.40" y2="241.30" stroke="#111" stroke-width="0.9"/>
<line x1="239.00" y1="240.00" x2="239.00" y2="241.30" stroke="#111" stroke-width="0.9"/>
<line x1="241.13" y1="240.00" x2="241.13" y2="241.30" stroke="#111" stroke-width="0.9"/>
<line x1="242.93" y1="240.00" x2="242.93" y2="241.30" stroke="#111" stroke-width="0.9"/>
<line x1="244.49" y1="240.00" x2="244.49" y2="241.30" stroke="#111" stroke-width="0.9"/>
<line x1="245.87" y1="240.00" x2="245.87" y2="241.30" stroke="#111" stroke-width="0.9"/>
<line x1="247.10" y1="240.00" x2="247.10" y2="243.00" stroke="#111" stroke-width="0.9"/>
<line x1="255.20" y1="240.00" x2="255.20" y2="241.30" stroke="#111" stroke-width="0.9"/>
<line x1="259.93" y1="240.00" x2="259.93" y2="241.30" stroke="#111" stroke-width="0.9"/>
<line x1="263.30" y1="240.00" x2="263.30" y2="241.30" stroke="#111" stroke-width="0.9"/>
<line x1="265.90" y1="240.00" x2="265.90" y2="241.30" stroke="#111" stroke-width="0.9"/>
<line x1="268.03" y1="240.00" x2="268.03" y2="241.30" stroke="#111" stroke-width="0.9"/>
<line x1="269.83" y1="240.00" x2="269.83" y2="241.30" stroke="#111" stroke-width="0.9"/>
<line x1="271.39" y1="240.00" x2="271.39" y2="241.30" stroke="#111" stroke-width="0.9"/>
<line x1="272.77" y1="240.00" x2="272.77" y2="241.30" stroke="#111" stroke-width="0.9"/>
<text x="193.20" y="249.60" font-size="5" text-anchor="middle" fill="#222" stroke="#222" stroke-width="0.15">10<tspan dy="-2" font-size="3.6">0</tspan></text>
<text x="220.10" y="249.60" font-size="5" text-anchor="middle" fill="#222" stroke="#222" stroke-width="0.15">10<tspan dy="-2" font-size="3.6">1</tspan></text>
<text x="247.00" y="249.60" font-size="5" text-anchor="middle" fill="#222" stroke="#222" stroke-width="0.15">10<tspan dy="-2" font-size="3.6">2</tspan></text>
<text x="273.90" y="249.60" font-size="5" text-anchor="middle" fill="#222" stroke="#222" stroke-width="0.15">10<tspan dy="-2" font-size="3.6">3</tspan></text>
<text x="220.70" y="255.20" font-size="4.8" font-weight="bold" text-anchor="middle" fill="#222">CD40</text>
<!-- Panel B -->
<text x="291.30" y="11.00" font-size="13.2" font-weight="normal" text-anchor="start" stroke="#000" stroke-width="0.3">B</text>
<line x1="337.40" y1="0.50" x2="337.40" y2="104.80" stroke="#000" stroke-width="1.9" />
<line x1="335.20" y1="104.80" x2="339.60" y2="104.80" stroke="#000" stroke-width="1.7" />
<line x1="337.40" y1="112.00" x2="337.40" y2="205.00" stroke="#000" stroke-width="1.9" />
<line x1="335.20" y1="112.00" x2="339.60" y2="112.00" stroke="#000" stroke-width="1.7" />
<line x1="333.50" y1="87.50" x2="337.40" y2="87.50" stroke="#000" stroke-width="1.3" />
<text x="333.10" y="89.70" font-size="7.4" font-weight="bold" text-anchor="end" textLength="11.8" lengthAdjust="spacingAndGlyphs" stroke="#000" stroke-width="0.2">200</text>
<line x1="333.50" y1="53.75" x2="337.40" y2="53.75" stroke="#000" stroke-width="1.3" />
<text x="333.10" y="55.95" font-size="7.4" font-weight="bold" text-anchor="end" textLength="11.8" lengthAdjust="spacingAndGlyphs" stroke="#000" stroke-width="0.2">400</text>
<line x1="333.50" y1="20.00" x2="337.40" y2="20.00" stroke="#000" stroke-width="1.3" />
<text x="333.10" y="22.20" font-size="7.4" font-weight="bold" text-anchor="end" textLength="11.8" lengthAdjust="spacingAndGlyphs" stroke="#000" stroke-width="0.2">600</text>
<line x1="333.50" y1="205.00" x2="337.40" y2="205.00" stroke="#000" stroke-width="1.3" />
<text x="333.10" y="207.20" font-size="7.4" font-weight="bold" text-anchor="end" textLength="3.95" lengthAdjust="spacingAndGlyphs" stroke="#000" stroke-width="0.2">0</text>
<line x1="333.50" y1="176.67" x2="337.40" y2="176.67" stroke="#000" stroke-width="1.3" />
<text x="333.10" y="178.87" font-size="7.4" font-weight="bold" text-anchor="end" textLength="7.9" lengthAdjust="spacingAndGlyphs" stroke="#000" stroke-width="0.2">20</text>
<line x1="333.50" y1="148.33" x2="337.40" y2="148.33" stroke="#000" stroke-width="1.3" />
<text x="333.10" y="150.53" font-size="7.4" font-weight="bold" text-anchor="end" textLength="7.9" lengthAdjust="spacingAndGlyphs" stroke="#000" stroke-width="0.2">40</text>
<line x1="333.50" y1="120.00" x2="337.40" y2="120.00" stroke="#000" stroke-width="1.3" />
<text x="333.10" y="122.20" font-size="7.4" font-weight="bold" text-anchor="end" textLength="7.9" lengthAdjust="spacingAndGlyphs" stroke="#000" stroke-width="0.2">60</text>
<line x1="337.40" y1="205.00" x2="520.00" y2="205.00" stroke="#000" stroke-width="1.7" />
<line x1="360.40" y1="205.00" x2="360.40" y2="208.40" stroke="#000" stroke-width="1.3" />
<text x="360.40" y="215.50" font-size="7.6" font-weight="bold" text-anchor="middle" stroke="#000" stroke-width="0.2">MHC II</text>
<line x1="405.00" y1="205.00" x2="405.00" y2="208.40" stroke="#000" stroke-width="1.3" />
<text x="405.00" y="215.50" font-size="7.6" font-weight="bold" text-anchor="middle" stroke="#000" stroke-width="0.2">CD40</text>
<line x1="450.80" y1="205.00" x2="450.80" y2="208.40" stroke="#000" stroke-width="1.3" />
<text x="450.80" y="215.50" font-size="7.6" font-weight="bold" text-anchor="middle" stroke="#000" stroke-width="0.2">CD80</text>
<line x1="496.00" y1="205.00" x2="496.00" y2="208.40" stroke="#000" stroke-width="1.3" />
<text x="496.00" y="215.50" font-size="7.6" font-weight="bold" text-anchor="middle" stroke="#000" stroke-width="0.2">CD86</text>
<text transform="translate(299.2,102.0) rotate(-90)" font-size="8.6" font-weight="bold" text-anchor="middle" stroke="#000" stroke-width="0.15" textLength="141" lengthAdjust="spacingAndGlyphs">Mean Fluorescent Intensity (MFI)</text>
<rect x="342.40" y="156.07" width="6.30" height="48.93" fill="#9c9c9c" stroke="#000" stroke-width="1.6"/>
<rect x="341.60" y="155.27" width="7.90" height="2.4" rx="0.8" fill="#000"/>
<rect x="352.00" y="139.36" width="6.00" height="65.64" fill="url(#hatchB)" stroke="#000" stroke-width="1.6"/>
<rect x="351.20" y="138.56" width="7.60" height="2.4" rx="0.8" fill="#000"/>
<line x1="364.80" y1="61.34" x2="364.80" y2="53.24" stroke="#000" stroke-width="1.2" />
<line x1="362.60" y1="53.24" x2="367.00" y2="53.24" stroke="#000" stroke-width="1.5" />
<rect x="361.10" y="62.14" width="7.40" height="142.86" fill="#000" stroke="#000" stroke-width="1.6"/>
<line x1="374.60" y1="98.81" x2="374.60" y2="95.60" stroke="#000" stroke-width="1.2" />
<line x1="372.40" y1="95.60" x2="376.80" y2="95.60" stroke="#000" stroke-width="1.5" />
<rect x="371.15" y="99.76" width="6.90" height="105.24" fill="#fff" stroke="#000" stroke-width="1.9"/>
<line x1="373.20" y1="100.71" x2="373.20" y2="205.00" stroke="#888" stroke-width="0.8" />
<rect x="387.10" y="199.57" width="6.60" height="5.43" fill="#9c9c9c" stroke="#000" stroke-width="1.6"/>
<rect x="386.30" y="198.77" width="8.20" height="2.4" rx="0.8" fill="#000"/>
<rect x="397.30" y="202.68" width="6.40" height="2.32" fill="url(#hatchB)" stroke="#000" stroke-width="1.6"/>
<rect x="396.50" y="201.88" width="8.00" height="2.4" rx="0.8" fill="#000"/>
<rect x="407.10" y="182.57" width="6.40" height="22.43" fill="#000" stroke="#000" stroke-width="1.6"/>
<rect x="417.25" y="201.27" width="5.60" height="3.73" fill="#fff" stroke="#000" stroke-width="1.9"/>
<line x1="419.30" y1="202.22" x2="419.30" y2="205.00" stroke="#888" stroke-width="0.8" />
<rect x="416.30" y="200.32" width="7.50" height="2.4" rx="0.8" fill="#000"/>
<rect x="433.20" y="195.74" width="6.00" height="9.26" fill="#9c9c9c" stroke="#000" stroke-width="1.6"/>
<rect x="432.40" y="194.94" width="7.60" height="2.4" rx="0.8" fill="#000"/>
<rect x="442.80" y="193.40" width="6.00" height="11.60" fill="url(#hatchB)" stroke="#000" stroke-width="1.6"/>
<rect x="442.00" y="192.60" width="7.60" height="2.4" rx="0.8" fill="#000"/>
<rect x="451.30" y="88.99" width="8.70" height="116.01" fill="#000"/>
<rect x="451.30" y="86.49" width="8.70" height="6" rx="2.6" ry="2.2" fill="#000"/>
<line x1="465.25" y1="116.60" x2="465.25" y2="112.91" stroke="#000" stroke-width="1.2" />
<line x1="463.05" y1="112.91" x2="467.45" y2="112.91" stroke="#000" stroke-width="1.5" />
<rect x="462.25" y="117.55" width="6.00" height="87.45" fill="#fff" stroke="#000" stroke-width="1.9"/>
<line x1="464.30" y1="118.50" x2="464.30" y2="205.00" stroke="#888" stroke-width="0.8" />
<rect x="478.30" y="184.27" width="6.70" height="20.73" fill="#9c9c9c" stroke="#000" stroke-width="1.6"/>
<rect x="477.50" y="183.47" width="8.30" height="2.4" rx="0.8" fill="#000"/>
<rect x="488.10" y="153.81" width="5.90" height="51.19" fill="url(#hatchB)" stroke="#000" stroke-width="1.6"/>
<rect x="487.30" y="153.01" width="7.50" height="2.4" rx="0.8" fill="#000"/>
<line x1="501.15" y1="7.51" x2="501.15" y2="2.45" stroke="#000" stroke-width="1.2" />
<line x1="498.95" y1="2.45" x2="503.35" y2="2.45" stroke="#000" stroke-width="1.5" />
<rect x="497.80" y="8.31" width="6.70" height="196.69" fill="#000" stroke="#000" stroke-width="1.6"/>
<rect x="507.95" y="77.65" width="6.10" height="127.35" fill="#fff" stroke="#000" stroke-width="1.9"/>
<line x1="510.00" y1="78.60" x2="510.00" y2="205.00" stroke="#888" stroke-width="0.8" />
<rect x="507.00" y="76.70" width="8.00" height="2.4" rx="0.8" fill="#000"/>
<rect x="338.60" y="103.9" width="182.60" height="8.0" fill="#fff"/>
<path d="M374.60,86.30 L374.60,84.50 M374.60,86.30 L376.31,85.74 M374.60,86.30 L375.66,87.76 M374.60,86.30 L373.54,87.76 M374.60,86.30 L372.89,85.74 " stroke="#000" stroke-width="1.5" stroke-linecap="round" fill="none"/>
<path d="M420.00,190.20 L420.00,188.40 M420.00,190.20 L421.71,189.64 M420.00,190.20 L421.06,191.66 M420.00,190.20 L418.94,191.66 M420.00,190.20 L418.29,189.64 " stroke="#000" stroke-width="1.5" stroke-linecap="round" fill="none"/>
<path d="M465.60,102.60 L465.60,100.80 M465.60,102.60 L467.31,102.04 M465.60,102.60 L466.66,104.06 M465.60,102.60 L464.54,104.06 M465.60,102.60 L463.89,102.04 " stroke="#000" stroke-width="1.5" stroke-linecap="round" fill="none"/>
<path d="M511.20,65.60 L511.20,63.80 M511.20,65.60 L512.91,65.04 M511.20,65.60 L512.26,67.06 M511.20,65.60 L510.14,67.06 M511.20,65.60 L509.49,65.04 " stroke="#000" stroke-width="1.5" stroke-linecap="round" fill="none"/>
<rect x="386.0" y="10.2" width="13.7" height="8.4" fill="#000"/>
<rect x="388.4" y="12.4" width="8.9" height="4.1" fill="#a4a4a4"/>
<rect x="388.4" y="14.0" width="8.9" height="0.9" fill="#d2d2d2"/>
<rect x="386.0" y="21.1" width="13.7" height="8.6" fill="#000"/>
<polygon points="388.9,27.7 392.0,27.7 396.0,23.3 392.9,23.3" fill="#fff"/>
<polygon points="388.3,23.3 390.5,23.3 388.3,25.7" fill="#fff"/>
<polygon points="397.4,25.0 397.4,27.7 395.0,27.7" fill="#fff"/>
<rect x="386.0" y="32.3" width="13.7" height="7.6" fill="#000"/>
<rect x="386.2" y="42.8" width="13.7" height="8.4" fill="#000"/>
<rect x="388.4" y="44.9" width="1.6" height="4.5" fill="#fff"/>
<rect x="391.2" y="44.9" width="1.7" height="4.5" fill="#fff"/>
<rect x="394.0" y="44.9" width="1.5" height="4.5" fill="#fff"/>
<rect x="396.6" y="44.9" width="1.2" height="4.5" fill="#fff"/>
<text x="404.30" y="17.50" font-size="9.3" font-weight="normal" text-anchor="start" textLength="25.4" lengthAdjust="spacingAndGlyphs" stroke="#000" stroke-width="0.3">Media</text>
<text x="404.30" y="28.00" font-size="9.3" font-weight="normal" text-anchor="start" textLength="23.4" lengthAdjust="spacingAndGlyphs" stroke="#000" stroke-width="0.3">3-MA</text>
<text x="404.30" y="38.60" font-size="9.3" font-weight="normal" text-anchor="start" textLength="17.9" lengthAdjust="spacingAndGlyphs" stroke="#000" stroke-width="0.3">RSV</text>
<text x="404.30" y="49.70" font-size="9.3" font-weight="normal" text-anchor="start" textLength="52.0" lengthAdjust="spacingAndGlyphs" stroke="#000" stroke-width="0.3">RSV + 3-MA</text>
<text x="-0.50" y="280.30" font-size="14.4" font-weight="normal" text-anchor="start" stroke="#000" stroke-width="0.35">C</text>
<text x="117.00" y="281.40" font-size="13.3" font-weight="normal" text-anchor="start" textLength="61.2" lengthAdjust="spacingAndGlyphs" stroke="#000" stroke-width="0.45">Ovalbumin</text>
<line x1="59.20" y1="294.80" x2="59.20" y2="392.70" stroke="#000" stroke-width="2.0" />
<line x1="58.20" y1="392.70" x2="61.80" y2="392.70" stroke="#000" stroke-width="1.6" />
<line x1="59.20" y1="403.40" x2="59.20" y2="499.50" stroke="#000" stroke-width="2.0" />
<line x1="58.20" y1="403.50" x2="61.80" y2="403.50" stroke="#000" stroke-width="1.6" />
<line x1="54.00" y1="392.70" x2="59.20" y2="392.70" stroke="#000" stroke-width="1.4" />
<text x="54.00" y="396.00" font-size="9.5" font-weight="normal" text-anchor="end" textLength="18.4" lengthAdjust="spacingAndGlyphs" stroke="#000" stroke-width="0.25">1000</text>
<line x1="54.00" y1="373.30" x2="59.20" y2="373.30" stroke="#000" stroke-width="1.4" />
<text x="54.00" y="376.60" font-size="9.5" font-weight="normal" text-anchor="end" textLength="18.4" lengthAdjust="spacingAndGlyphs" stroke="#000" stroke-width="0.25">1100</text>
<line x1="54.00" y1="353.90" x2="59.20" y2="353.90" stroke="#000" stroke-width="1.4" />
<text x="54.00" y="357.20" font-size="9.5" font-weight="normal" text-anchor="end" textLength="18.4" lengthAdjust="spacingAndGlyphs" stroke="#000" stroke-width="0.25">1200</text>
<line x1="54.00" y1="334.50" x2="59.20" y2="334.50" stroke="#000" stroke-width="1.4" />
<text x="54.00" y="337.80" font-size="9.5" font-weight="normal" text-anchor="end" textLength="18.4" lengthAdjust="spacingAndGlyphs" stroke="#000" stroke-width="0.25">1300</text>
<line x1="54.00" y1="315.10" x2="59.20" y2="315.10" stroke="#000" stroke-width="1.4" />
<text x="54.00" y="318.40" font-size="9.5" font-weight="normal" text-anchor="end" textLength="18.4" lengthAdjust="spacingAndGlyphs" stroke="#000" stroke-width="0.25">1400</text>
<line x1="54.00" y1="295.70" x2="59.20" y2="295.70" stroke="#000" stroke-width="1.4" />
<text x="54.00" y="299.00" font-size="9.5" font-weight="normal" text-anchor="end" textLength="18.4" lengthAdjust="spacingAndGlyphs" stroke="#000" stroke-width="0.25">1500</text>
<line x1="54.00" y1="499.50" x2="59.20" y2="499.50" stroke="#000" stroke-width="1.4" />
<text x="54.00" y="502.80" font-size="9.5" font-weight="normal" text-anchor="end" textLength="5.0" lengthAdjust="spacingAndGlyphs" stroke="#000" stroke-width="0.25">0</text>
<line x1="54.00" y1="480.30" x2="59.20" y2="480.30" stroke="#000" stroke-width="1.4" />
<text x="54.00" y="483.60" font-size="9.5" font-weight="normal" text-anchor="end" textLength="15.0" lengthAdjust="spacingAndGlyphs" stroke="#000" stroke-width="0.25">100</text>
<line x1="54.00" y1="461.10" x2="59.20" y2="461.10" stroke="#000" stroke-width="1.4" />
<text x="54.00" y="464.40" font-size="9.5" font-weight="normal" text-anchor="end" textLength="15.0" lengthAdjust="spacingAndGlyphs" stroke="#000" stroke-width="0.25">200</text>
<line x1="54.00" y1="441.90" x2="59.20" y2="441.90" stroke="#000" stroke-width="1.4" />
<text x="54.00" y="445.20" font-size="9.5" font-weight="normal" text-anchor="end" textLength="15.0" lengthAdjust="spacingAndGlyphs" stroke="#000" stroke-width="0.25">300</text>
<line x1="54.00" y1="422.70" x2="59.20" y2="422.70" stroke="#000" stroke-width="1.4" />
<text x="54.00" y="426.00" font-size="9.5" font-weight="normal" text-anchor="end" textLength="15.0" lengthAdjust="spacingAndGlyphs" stroke="#000" stroke-width="0.25">400</text>
<line x1="54.00" y1="403.50" x2="59.20" y2="403.50" stroke="#000" stroke-width="1.4" />
<text x="54.00" y="406.80" font-size="9.5" font-weight="normal" text-anchor="end" textLength="15.0" lengthAdjust="spacingAndGlyphs" stroke="#000" stroke-width="0.25">500</text>
<line x1="58.20" y1="499.50" x2="236.20" y2="499.50" stroke="#000" stroke-width="1.8" />
<line x1="88.60" y1="499.50" x2="88.60" y2="504.30" stroke="#000" stroke-width="1.8" />
<text x="88.60" y="515.80" font-size="12.8" font-weight="normal" text-anchor="middle" textLength="21.0" lengthAdjust="spacingAndGlyphs" stroke="#000" stroke-width="0.45">IL-4</text>
<line x1="147.80" y1="499.50" x2="147.80" y2="504.30" stroke="#000" stroke-width="1.8" />
<text x="147.80" y="515.80" font-size="12.8" font-weight="normal" text-anchor="middle" textLength="35.2" lengthAdjust="spacingAndGlyphs" stroke="#000" stroke-width="0.45">IL-17A</text>
<line x1="207.00" y1="499.50" x2="207.00" y2="504.30" stroke="#000" stroke-width="1.8" />
<text x="207.00" y="515.80" font-size="12.8" font-weight="normal" text-anchor="middle" textLength="26.6" lengthAdjust="spacingAndGlyphs" stroke="#000" stroke-width="0.45">IFNg</text>
<text transform="translate(9.6,396.5) rotate(-90)" font-size="11" font-weight="bold" text-anchor="middle" textLength="30.2" lengthAdjust="spacingAndGlyphs">pg/ml</text>
<line x1="88.60" y1="422.51" x2="88.60" y2="420.20" stroke="#000" stroke-width="1.8" />
<line x1="85.20" y1="420.20" x2="92.00" y2="420.20" stroke="#000" stroke-width="1.9" />
<rect x="83.10" y="423.41" width="11.00" height="76.09" fill="#000" stroke="#000" stroke-width="1.8"/>
<rect x="99.50" y="489.84" width="10.40" height="9.66" fill="#a3a3a3" stroke="#000" stroke-width="1.8"/>
<line x1="147.45" y1="323.83" x2="147.45" y2="309.47" stroke="#000" stroke-width="1.8" />
<line x1="144.05" y1="309.47" x2="150.85" y2="309.47" stroke="#000" stroke-width="1.9" />
<rect x="141.90" y="324.73" width="11.10" height="174.77" fill="#000" stroke="#000" stroke-width="1.8"/>
<line x1="163.55" y1="371.75" x2="163.55" y2="361.27" stroke="#000" stroke-width="1.8" />
<line x1="160.15" y1="361.27" x2="166.95" y2="361.27" stroke="#000" stroke-width="1.9" />
<rect x="158.50" y="372.65" width="10.10" height="126.85" fill="#a3a3a3" stroke="#000" stroke-width="1.8"/>
<line x1="206.60" y1="367.87" x2="206.60" y2="338.38" stroke="#000" stroke-width="1.8" />
<line x1="203.20" y1="338.38" x2="210.00" y2="338.38" stroke="#000" stroke-width="1.9" />
<rect x="201.20" y="368.77" width="10.80" height="130.73" fill="#000" stroke="#000" stroke-width="1.8"/>
<line x1="222.40" y1="476.08" x2="222.40" y2="473.39" stroke="#000" stroke-width="1.8" />
<line x1="219.00" y1="473.39" x2="225.80" y2="473.39" stroke="#000" stroke-width="1.9" />
<rect x="217.00" y="476.98" width="10.80" height="22.52" fill="#a3a3a3" stroke="#000" stroke-width="1.8"/>
<rect x="60.70" y="393.6" width="180" height="9.0" fill="#fff"/>
<path d="M125.4,499.5 V495.6 H127.6 V494.0 H135.4 V495.6 H137.6 V499.5 Z" fill="#000"/>
<rect x="127.6" y="496.7" width="4.6" height="2.0" fill="#fff"/>
<rect x="133.9" y="496.7" width="1.9" height="2.0" fill="#fff"/>
<path d="M105.80,471.80 L105.80,469.30 M105.80,471.80 L108.18,471.03 M105.80,471.80 L107.27,473.82 M105.80,471.80 L104.33,473.82 M105.80,471.80 L103.42,471.03 " stroke="#000" stroke-width="1.5" stroke-linecap="round" fill="none"/>
<path d="M163.80,341.40 L163.80,338.90 M163.80,341.40 L166.18,340.63 M163.80,341.40 L165.27,343.42 M163.80,341.40 L162.33,343.42 M163.80,341.40 L161.42,340.63 " stroke="#000" stroke-width="1.5" stroke-linecap="round" fill="none"/>
<path d="M222.40,458.00 L222.40,455.50 M222.40,458.00 L224.78,457.23 M222.40,458.00 L223.87,460.02 M222.40,458.00 L220.93,460.02 M222.40,458.00 L220.02,457.23 " stroke="#000" stroke-width="1.5" stroke-linecap="round" fill="none"/>
<rect x="68.2" y="327.3" width="15.7" height="10.4" fill="#000"/>
<rect x="69.9" y="329.4" width="2.10" height="6.4" fill="#fff"/>
<rect x="74.1" y="329.4" width="4.00" height="6.4" fill="#fff"/>
<rect x="80.0" y="329.4" width="1.90" height="6.4" fill="#fff"/>
<text x="89.40" y="336.30" font-size="10.0" font-weight="normal" text-anchor="start" textLength="26.4" lengthAdjust="spacingAndGlyphs" stroke="#000" stroke-width="0.3">Media</text>
<rect x="69.10" y="342.60" width="13.90" height="8.50" fill="#000" stroke="#000" stroke-width="1.8"/>
<text x="89.40" y="350.30" font-size="10.0" font-weight="normal" text-anchor="start" textLength="47.0" lengthAdjust="spacingAndGlyphs" stroke="#000" stroke-width="0.3">Ovalbumin</text>
<rect x="69.10" y="357.50" width="13.90" height="9.00" fill="#a3a3a3" stroke="#000" stroke-width="1.8"/>
<text x="89.40" y="364.50" font-size="10.0" font-weight="normal" text-anchor="start" textLength="51.0" lengthAdjust="spacingAndGlyphs" stroke="#000" stroke-width="0.3">Ova + 3-MA</text>
<text x="365.90" y="279.80" font-size="13.7" font-weight="normal" text-anchor="start" textLength="25.2" lengthAdjust="spacingAndGlyphs" stroke="#000" stroke-width="0.45">RSV</text>
<line x1="308.80" y1="296.30" x2="308.80" y2="406.20" stroke="#000" stroke-width="2.0" />
<line x1="306.80" y1="406.20" x2="312.00" y2="406.20" stroke="#000" stroke-width="1.6" />
<line x1="308.80" y1="416.70" x2="308.80" y2="500.40" stroke="#000" stroke-width="2.0" />
<line x1="307.80" y1="416.80" x2="311.40" y2="416.80" stroke="#000" stroke-width="1.6" />
<line x1="304.00" y1="399.80" x2="308.80" y2="399.80" stroke="#000" stroke-width="1.4" />
<text x="304.10" y="403.10" font-size="9.5" font-weight="normal" text-anchor="end" textLength="17.8" lengthAdjust="spacingAndGlyphs" stroke="#000" stroke-width="0.25">1000</text>
<line x1="304.00" y1="365.70" x2="308.80" y2="365.70" stroke="#000" stroke-width="1.4" />
<text x="304.10" y="369.00" font-size="9.5" font-weight="normal" text-anchor="end" textLength="17.8" lengthAdjust="spacingAndGlyphs" stroke="#000" stroke-width="0.25">2000</text>
<line x1="304.00" y1="331.60" x2="308.80" y2="331.60" stroke="#000" stroke-width="1.4" />
<text x="304.10" y="334.90" font-size="9.5" font-weight="normal" text-anchor="end" textLength="17.8" lengthAdjust="spacingAndGlyphs" stroke="#000" stroke-width="0.25">3000</text>
<line x1="304.00" y1="297.50" x2="308.80" y2="297.50" stroke="#000" stroke-width="1.4" />
<text x="304.10" y="300.80" font-size="9.5" font-weight="normal" text-anchor="end" textLength="17.8" lengthAdjust="spacingAndGlyphs" stroke="#000" stroke-width="0.25">4000</text>
<line x1="304.00" y1="500.40" x2="308.80" y2="500.40" stroke="#000" stroke-width="1.4" />
<text x="304.10" y="503.70" font-size="9.5" font-weight="normal" text-anchor="end" textLength="5.0" lengthAdjust="spacingAndGlyphs" stroke="#000" stroke-width="0.25">0</text>
<line x1="304.00" y1="479.50" x2="308.80" y2="479.50" stroke="#000" stroke-width="1.4" />
<text x="304.10" y="482.80" font-size="9.5" font-weight="normal" text-anchor="end" textLength="13.2" lengthAdjust="spacingAndGlyphs" stroke="#000" stroke-width="0.25">200</text>
<line x1="304.00" y1="458.60" x2="308.80" y2="458.60" stroke="#000" stroke-width="1.4" />
<text x="304.10" y="461.90" font-size="9.5" font-weight="normal" text-anchor="end" textLength="13.2" lengthAdjust="spacingAndGlyphs" stroke="#000" stroke-width="0.25">400</text>
<line x1="304.00" y1="437.70" x2="308.80" y2="437.70" stroke="#000" stroke-width="1.4" />
<text x="304.10" y="441.00" font-size="9.5" font-weight="normal" text-anchor="end" textLength="13.2" lengthAdjust="spacingAndGlyphs" stroke="#000" stroke-width="0.25">600</text>
<line x1="304.00" y1="416.80" x2="308.80" y2="416.80" stroke="#000" stroke-width="1.4" />
<text x="304.10" y="420.10" font-size="9.5" font-weight="normal" text-anchor="end" textLength="13.2" lengthAdjust="spacingAndGlyphs" stroke="#000" stroke-width="0.25">800</text>
<line x1="307.80" y1="500.40" x2="498.00" y2="500.40" stroke="#000" stroke-width="1.8" />
<line x1="355.20" y1="500.40" x2="355.20" y2="505.00" stroke="#000" stroke-width="1.8" />
<text x="355.20" y="516.50" font-size="12.8" font-weight="normal" text-anchor="middle" textLength="25.6" lengthAdjust="spacingAndGlyphs" stroke="#000" stroke-width="0.45">IFNg</text>
<line x1="451.00" y1="500.40" x2="451.00" y2="505.00" stroke="#000" stroke-width="1.8" />
<text x="451.00" y="516.50" font-size="12.8" font-weight="normal" text-anchor="middle" textLength="32.0" lengthAdjust="spacingAndGlyphs" stroke="#000" stroke-width="0.45">IL-17A</text>
<text transform="translate(269.0,397.5) rotate(-90)" font-size="11" font-weight="bold" text-anchor="middle" textLength="30.9" lengthAdjust="spacingAndGlyphs">pg/ml</text>
<rect x="415.2" y="493.7" width="19.3" height="6.7" fill="#000"/>
<rect x="417.8" y="496.8" width="3.20" height="2.3" fill="#fff"/>
<rect x="424.0" y="496.8" width="3.30" height="2.3" fill="#fff"/>
<rect x="430.0" y="496.8" width="2.40" height="2.3" fill="#fff"/>
<rect x="321.20" y="497.85" width="17.90" height="2.55" fill="#000" stroke="#000" stroke-width="1.8"/>
<line x1="355.95" y1="423.80" x2="355.95" y2="419.62" stroke="#000" stroke-width="1.8" />
<line x1="351.15" y1="419.62" x2="360.75" y2="419.62" stroke="#000" stroke-width="1.9" />
<rect x="347.40" y="424.70" width="17.10" height="75.70" fill="#000" stroke="#000" stroke-width="1.8"/>
<rect x="372.80" y="498.90" width="18.00" height="1.50" fill="#000" stroke="#000" stroke-width="1.8"/>
<line x1="450.85" y1="318.74" x2="450.85" y2="311.99" stroke="#000" stroke-width="1.8" />
<line x1="446.05" y1="311.99" x2="455.65" y2="311.99" stroke="#000" stroke-width="1.9" />
<rect x="442.10" y="319.64" width="17.50" height="180.76" fill="#000" stroke="#000" stroke-width="1.8"/>
<rect x="467.90" y="487.19" width="17.50" height="13.21" fill="#a3a3a3" stroke="#000" stroke-width="1.8"/>
<path d="M382.70,468.50 L382.70,466.00 M382.70,468.50 L385.08,467.73 M382.70,468.50 L384.17,470.52 M382.70,468.50 L381.23,470.52 M382.70,468.50 L380.32,467.73 " stroke="#000" stroke-width="1.5" stroke-linecap="round" fill="none"/>
<path d="M477.00,468.30 L477.00,465.80 M477.00,468.30 L479.38,467.53 M477.00,468.30 L478.47,470.32 M477.00,468.30 L475.53,470.32 M477.00,468.30 L474.62,467.53 " stroke="#000" stroke-width="1.5" stroke-linecap="round" fill="none"/>
<rect x="338.00" y="323.10" width="13.30" height="8.20" fill="url(#checkCL)" stroke="#000" stroke-width="1.8"/>
<text x="357.00" y="330.70" font-size="9.8" font-weight="normal" text-anchor="start" textLength="24.9" lengthAdjust="spacingAndGlyphs" stroke="#000" stroke-width="0.3">Media</text>
<rect x="338.00" y="337.70" width="13.30" height="8.90" fill="#000" stroke="#000" stroke-width="1.8"/>
<text x="357.00" y="345.60" font-size="9.8" font-weight="normal" text-anchor="start" textLength="18.6" lengthAdjust="spacingAndGlyphs" stroke="#000" stroke-width="0.3">RSV</text>
<rect x="338.00" y="353.10" width="13.30" height="8.20" fill="#a3a3a3" stroke="#000" stroke-width="1.8"/>
<text x="357.00" y="361.00" font-size="9.8" font-weight="normal" text-anchor="start" textLength="49.6" lengthAdjust="spacingAndGlyphs" stroke="#000" stroke-width="0.3">RSV + 3-MA</text>
</svg>
</body></html>
